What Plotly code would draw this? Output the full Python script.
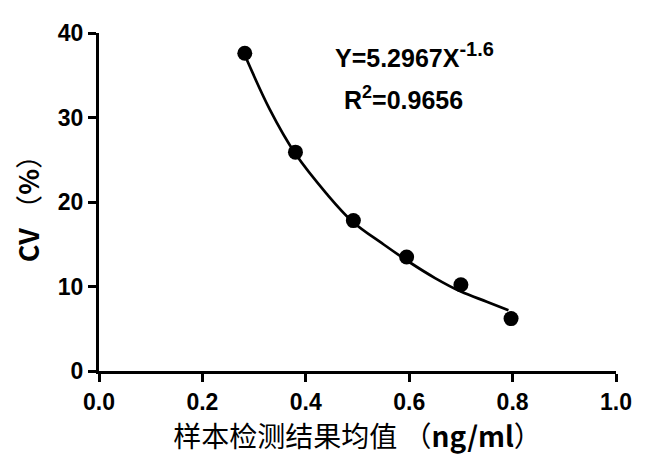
"""CV vs sample mean concentration, power fit curve."""
import plotly.graph_objects as go

# measured points
sample_mean = [0.282, 0.380, 0.492, 0.595, 0.700, 0.797]
cv_percent = [37.6, 25.9, 17.8, 13.5, 10.2, 6.2]

# fitted curve
fit_x = [0.282, 0.33, 0.38, 0.44, 0.49, 0.55, 0.60, 0.65, 0.70, 0.75, 0.792]
fit_y = [37.4, 31.0, 25.7, 21.0, 17.7, 15.0, 12.9, 11.0, 9.4, 8.2, 7.2]

x_ticks = [0.0, 0.2, 0.4, 0.6, 0.8, 1.0]
x_tick_text = ["0.0", "0.2", "0.4", "0.6", "0.8", "1.0"]
y_ticks = [0, 10, 20, 30, 40]

FONT = "Liberation Sans, Arial, Noto Sans CJK SC, sans-serif"
CJK = "Noto Sans CJK SC, Liberation Sans, sans-serif"

fig = go.Figure()
fig.add_trace(go.Scatter(
    x=fit_x, y=fit_y, mode="lines",
    line=dict(color="black", width=2.7, shape="spline", smoothing=1.0),
    hoverinfo="skip", showlegend=False,
))
fig.add_trace(go.Scatter(
    x=sample_mean, y=cv_percent, mode="markers",
    marker=dict(color="black", size=15),
    showlegend=False,
))

axis_common = dict(
    showline=True, linecolor="black", linewidth=3,
    ticks="outside", ticklen=8, tickwidth=3, tickcolor="black",
    showgrid=False, zeroline=False,
    tickfont=dict(family=FONT, size=23, color="black", weight="bold"),
)

fig.update_xaxes(
    range=[0, 1.0], tickvals=x_ticks, ticktext=x_tick_text,
    title=dict(
        text="样本检测结果均值 （<b>ng/ml</b>）",
        font=dict(family=CJK, size=28, color="black"),
        standoff=2,
    ),
    **axis_common,
)
fig.update_yaxes(
    range=[0, 40], tickvals=y_ticks,
    title=dict(
        text="<b>CV</b> （<b>%</b>）",
        font=dict(family=CJK, size=27, color="black"),
        standoff=12,
    ),
    **axis_common,
)

fig.add_annotation(
    x=0.452, y=37.4, xref="x", yref="y", xanchor="left", yanchor="middle",
    text="<b>Y=5.2967X<sup><span style='font-size:20px'>-1.6</span></sup></b>",
    showarrow=False,
    font=dict(family=FONT, size=25, color="black"),
)
fig.add_annotation(
    x=0.47, y=32.3, xref="x", yref="y", xanchor="left", yanchor="middle",
    text="<b>R<sup><span style='font-size:18px'>2</span></sup>=0.9656</b>",
    showarrow=False,
    font=dict(family=FONT, size=25, color="black"),
)

fig.update_layout(
    width=637, height=461,
    margin=dict(l=91, r=29, t=19, b=98),
    plot_bgcolor="white", paper_bgcolor="white",
    font=dict(family=FONT, color="black"),
)

fig.write_html("out.html")
